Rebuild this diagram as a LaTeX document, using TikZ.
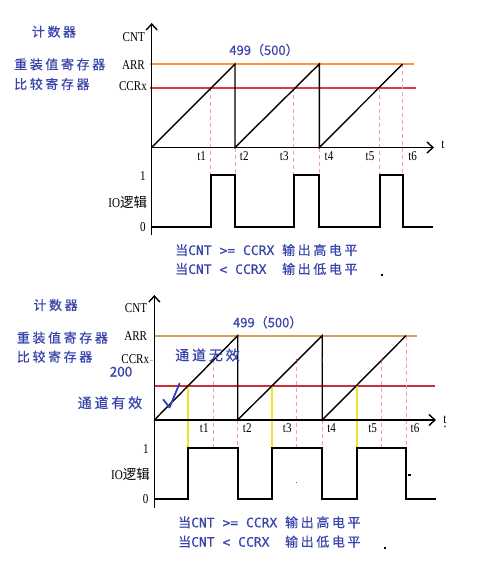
\documentclass[tikz,border=0pt]{standalone}
\usepackage{fontspec}
\setmainfont{Liberation Serif}
\newfontfamily\cjk{Noto Sans CJK SC}[FakeBold=0.4]
\newfontfamily\cjksp{Noto Sans CJK SC}[LetterSpace=20,FakeBold=0.4]
\newfontfamily\cjkplain{Noto Sans CJK SC}
\newfontfamily\serifc{Liberation Serif}[FakeStretch=0.82]
\newfontfamily\monof{DejaVu Sans Mono}[FakeBold=0.3]
\usetikzlibrary{arrows.meta}
\definecolor{txtblue}{RGB}{56,68,172}
\definecolor{orgA}{RGB}{255,150,60}
\definecolor{orgB}{HTML}{DC9C5E}
\definecolor{ccrredA}{RGB}{215,62,72}
\definecolor{ccrredB}{RGB}{200,48,58}
\definecolor{guidepink}{RGB}{240,160,182}
\definecolor{ylwline}{RGB}{240,228,40}
\definecolor{checkblue}{RGB}{50,62,200}
\begin{document}
\begin{tikzpicture}[x=1pt,y=-1pt,
  axis/.style={line width=1.4pt,-{Straight Barb[length=6pt,width=11pt]}},
  saw/.style={line width=1.4pt,line join=miter},
  pulse/.style={line width=2pt,line join=miter},
  guide/.style={draw=guidepink,line width=1pt,dash pattern=on 4pt off 3pt},
  ylw/.style={draw=ylwline,line width=2pt},
  axlbl/.style={font=\serifc\fontsize{13.5}{14}\selectfont,inner sep=0},
  bluelbl/.style={text=txtblue,font=\cjksp\fontsize{13}{15}\selectfont,inner sep=0,anchor=west},
  biglbl/.style={text=txtblue,font=\cjksp\fontsize{14}{16}\selectfont,inner sep=0},
  numlbl/.style={text=txtblue,font=\cjk\fontsize{13}{15}\selectfont,inner sep=0},
  cond/.style={text=txtblue,inner sep=0,anchor=west,font=\fontsize{13}{15}\selectfont},
  dotmark/.style={fill=black}]
\useasboundingbox (0,0) rectangle (482,578);
\fill[white] (0,0) rectangle (482,578);

% ================= TOP DIAGRAM =================
\coordinate (Ayb) at (151.7,235);
\coordinate (Ayt) at (151.7,23);
\coordinate (Ao) at (151.7,147.5);
\coordinate (Axe) at (434,147.5);
\coordinate (Aarr0) at (150,64);
\coordinate (Aarr1) at (414,64);
\coordinate (Accr0) at (150,87.7);
\coordinate (Accr1) at (416,87.7);

\fill[orgA] (150,63) rectangle (414,65);
\draw[color=ccrredA,line width=2pt] (Accr0) -- (Accr1);
% guides
\draw[guide] (210.9,87.7) -- (210.9,175);
\draw[guide] (235,147.5) -- (235,175);
\draw[guide] (293.5,87.7) -- (293.5,175);
\draw[guide] (319.3,147.5) -- (319.3,175);
\draw[guide] (379.7,87.7) -- (379.7,175);
\draw[guide] (402.7,64) -- (402.7,175);
% sawtooth
\draw[saw] (Ao) -- (235,64) -- (235,147.5) -- (319.3,64) -- (319.3,147.5) -- (402.7,64);
% axes
\draw[axis] (Ayb) -- (Ayt);
\draw[axis] (Ao) -- (Axe);
% pulse
\draw[pulse] (151.7,227) -- (210.9,227) -- (210.9,175) -- (235,175) -- (235,227)
  -- (293.5,227) -- (293.5,175) -- (319.3,175) -- (319.3,227)
  -- (379.7,227) -- (379.7,175) -- (402.7,175) -- (402.7,227) -- (433,227);

% labels
\node[axlbl,anchor=east] (AlCNT) at (145,36.7) {CNT};
\node[axlbl,anchor=east] (AlARR) at (145,65) {ARR};
\node[axlbl,anchor=east] (AlCCR) at (147,86.5) {CCRx};
\node[numlbl] (Al499) at (264,50) {499（500）};
\node[axlbl] (Alt) at (443,145) {t};
\node[axlbl] (At1) at (201.7,156.5) {t1};
\node[axlbl] (At2) at (244.3,156.5) {t2};
\node[axlbl] (At3) at (284.3,156.5) {t3};
\node[axlbl] (At4) at (329,156.5) {t4};
\node[axlbl] (At5) at (370,156.5) {t5};
\node[axlbl] (At6) at (412.7,156.5) {t6};
\node[axlbl] (Al1) at (143,175.7) {1};
\node[axlbl,anchor=east] (AlIO) at (147.3,202) {IO{\cjkplain 逻辑}};
\node[axlbl] (Al0) at (143,227) {0};
\node[bluelbl] (Acnt) at (31.7,31.7) {计数器};
\node[bluelbl] (Areload) at (14,64.3) {重装值寄存器};
\node[bluelbl] (Acmp) at (14,84) {比较寄存器};
\node[cond] (Acond1) at (175,250) {{\cjk 当}{\monof CNT\ >=\ CCRX\ }{\cjksp 输出高电平}};
\node[cond] (Acond2) at (175,269) {{\cjk 当}{\monof CNT\ <\ CCRX\ \ }{\cjksp 输出低电平}};
\fill[dotmark] (380.8,273.8) rectangle (383.2,276.2);

% ================= BOTTOM DIAGRAM =================
\coordinate (Byb) at (154.3,508);
\coordinate (Byt) at (154.3,295);
\coordinate (Bo) at (154.3,420);
\coordinate (Bxe) at (436,420);
\coordinate (Barr0) at (154,335.7);
\coordinate (Barr1) at (416.7,335.7);
\coordinate (Bccr0) at (154,385.7);
\coordinate (Bccr1) at (435,385.7);

\draw[color=orgB,line width=1.6pt] (Barr0) -- (Barr1);
\draw[color=ccrredB,line width=2.2pt] (Bccr0) -- (Bccr1);
% guides
\draw[guide] (150,360) -- (153,360);
\draw[guide] (213.3,360) -- (213.3,447.7);
\draw[guide] (237.7,420) -- (237.7,447.7);
\draw[guide] (296.7,360) -- (296.7,447.7);
\draw[guide] (322.2,420) -- (322.2,447.7);
\draw[guide] (381.7,360) -- (381.7,447.7);
\draw[guide] (406,335.7) -- (406,447.7);
% yellow
\draw[ylw] (188.3,385.7) -- (188.3,447.7);
\draw[ylw] (271.9,385.7) -- (271.9,447.7);
\draw[ylw] (356.8,385.7) -- (356.8,447.7);
% sawtooth
\draw[saw] (Bo) -- (237.7,335.7) -- (237.7,420) -- (322.2,335.7) -- (322.2,420) -- (406,335.7);
\fill[ccrredB] (296.7,360) circle (1.1);
\fill[ccrredB] (322.2,360) circle (1.1);
\fill[ccrredB] (381.7,360) circle (1.1);
% axes
\draw[axis] (Byb) -- (Byt);
\draw[axis] (Bo) -- (Bxe);
% pulse
\draw[pulse] (154.3,499.3) -- (188.3,499.3) -- (188.3,447.7) -- (237.7,447.7) -- (237.7,499.3)
  -- (271.9,499.3) -- (271.9,447.7) -- (322.2,447.7) -- (322.2,499.3)
  -- (356.8,499.3) -- (356.8,447.7) -- (406,447.7) -- (406,499.3) -- (436,499.3);
% check mark
\draw[checkblue,line width=1.8pt,line cap=round,line join=round]
  (163.3,399.5) -- (169.5,407.5) -- (179.5,383.5);

% labels
\node[axlbl,anchor=east] (BlCNT) at (147.3,308.3) {CNT};
\node[axlbl,anchor=east] (BlARR) at (147.3,336) {ARR};
\node[axlbl,anchor=east] (BlCCR) at (149.3,359.3) {CCRx};
\node[numlbl] (Bl499) at (267.7,322.3) {499（500）};
\node[numlbl,font=\cjk\fontsize{13.5}{15}\selectfont] (Bl200) at (121,371.7) {200};
\node[biglbl] (Binv) at (207.5,355) {通道无效};
\node[biglbl] (Bval) at (110,402.7) {通道有效};
\node[axlbl] (Blt) at (445,420) {t};
\fill[ccrredB] (445,426.5) circle (1.2);
\node[axlbl] (Bt1) at (204.3,427.7) {t1};
\node[axlbl] (Bt2) at (247.3,427.7) {t2};
\node[axlbl] (Bt3) at (287.3,427.7) {t3};
\node[axlbl] (Bt4) at (331.7,427.7) {t4};
\node[axlbl] (Bt5) at (372.7,427.7) {t5};
\node[axlbl] (Bt6) at (415,427.7) {t6};
\node[axlbl] (Bl1) at (146,449) {1};
\node[axlbl,anchor=east] (BlIO) at (150,474.3) {IO{\cjkplain 逻辑}};
\node[axlbl] (Bl0) at (145.7,499.3) {0};
\node[bluelbl] (Bcnt) at (33.3,305) {计数器};
\node[bluelbl] (Breload) at (16.7,337.7) {重装值寄存器};
\node[bluelbl] (Bcmp) at (16.7,356.7) {比较寄存器};
\node[cond] (Bcond1) at (178,522.3) {{\cjk 当}{\monof CNT\ >=\ CCRX\ }{\cjksp 输出高电平}};
\node[cond] (Bcond2) at (178,541.7) {{\cjk 当}{\monof CNT\ <\ CCRX\ \ }{\cjksp 输出低电平}};
\fill[dotmark] (383.8,546.5) rectangle (386.2,548.9);
\fill[dotmark] (408.3,473.8) rectangle (410.5,476.2);
\fill[black!60] (296.2,482.2) rectangle (297.2,483.2);
\end{tikzpicture}
\end{document}
